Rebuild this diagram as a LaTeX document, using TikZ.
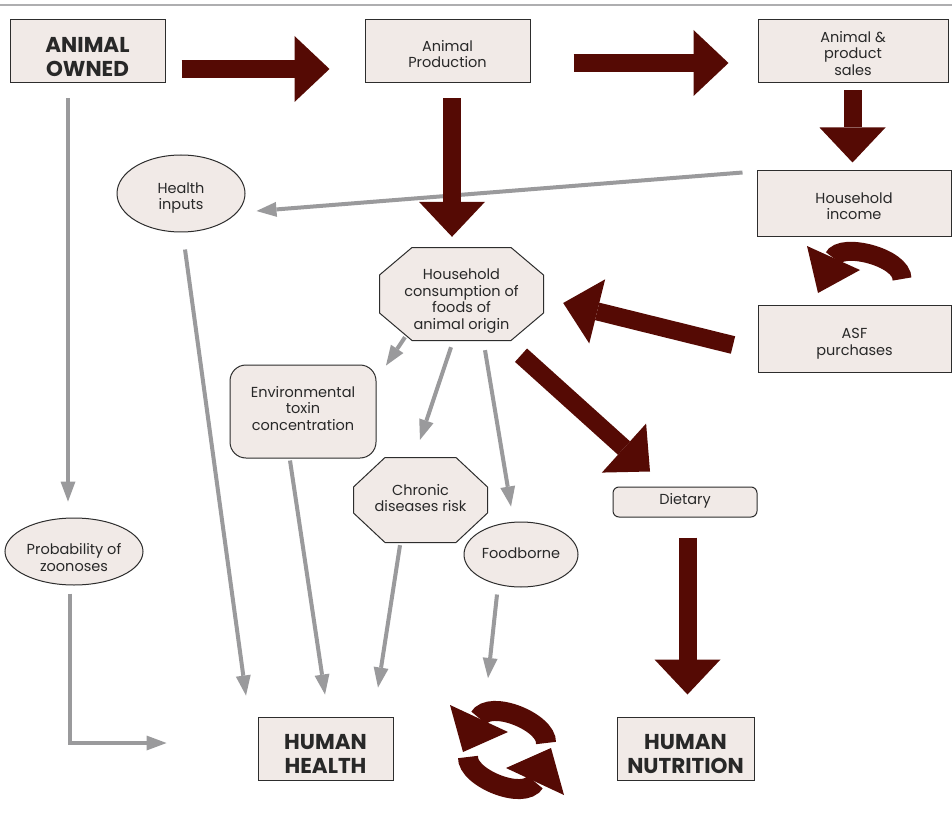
\documentclass[tikz,border=0pt]{standalone}
\usepackage{fontspec}
\setmainfont{Poppins}
\usetikzlibrary{arrows.meta,shapes.geometric,calc}
\definecolor{dred}{RGB}{85,10,4}
\definecolor{fillc}{RGB}{241,234,231}
\definecolor{arrg}{RGB}{154,154,156}
\definecolor{txt}{RGB}{40,40,40}
\definecolor{bord}{RGB}{45,45,45}
\newcommand{\mytxt}[2]{\raisebox{#1}[\height][\depth]{\begin{tabular}{@{}c@{}}#2\end{tabular}}}
\begin{document}
\begin{tikzpicture}[x=1pt,y=-1pt,
  box/.style={draw=bord, fill=fillc, line width=1pt, text=txt, align=center,
    inner sep=0pt, font=\fontsize{14.5}{16.5}\selectfont},
  bigbox/.style={box, font=\bfseries\fontsize{21.5}{24.5}\selectfont},
  ellbox/.style={box, ellipse},
  octbox/.style 2 args={draw=none, fill=none, text=txt, align=center, inner sep=0pt,
    font=\fontsize{14.5}{16.5}\selectfont,
    path picture={\filldraw[draw=bord, fill=fillc, line width=1pt]
      ([xshift=#1,yshift=-0.5pt]path picture bounding box.north west) --
      ([xshift=-#1,yshift=-0.5pt]path picture bounding box.north east) --
      ([xshift=-0.5pt,yshift=-#2]path picture bounding box.north east) --
      ([xshift=-0.5pt,yshift=#2]path picture bounding box.south east) --
      ([xshift=-#1,yshift=0.5pt]path picture bounding box.south east) --
      ([xshift=#1,yshift=0.5pt]path picture bounding box.south west) --
      ([xshift=0.5pt,yshift=#2]path picture bounding box.south west) --
      ([xshift=0.5pt,yshift=-#2]path picture bounding box.north west) -- cycle;}},
  garr/.style={draw=arrg, line width=4pt, -{Triangle[length=20pt,width=15pt,line width=0pt]}},
  bigarr/.style={draw=dred, line width=18pt, -{Triangle[length=35pt,width=66pt,line width=0pt]}},
  curvearr/.style={draw=dred, line width=20pt},
  headfill/.style={fill=dred}
]
\fill[white] (0,0) rectangle (952,818);
\useasboundingbox (0,0) rectangle (952,818);
\draw[arrg!80, line width=1.5pt] (0,5) -- (952,5);

% nodes
\node[bigbox, minimum width=155pt, minimum height=63pt] (owned) at (87.5,51.5) {\mytxt{-8pt}{ANIMAL\\OWNED}};
\node[box, minimum width=165pt, minimum height=63pt] (prod) at (447.5,51.5) {\mytxt{-4.5pt}{Animal\\Production}};
\node[box, minimum width=190pt, minimum height=63pt] (sales) at (853,51.5) {\mytxt{-4pt}{Animal \&\\product\\sales}};
\node[box, minimum width=194pt, minimum height=66pt] (income) at (854,204) {\mytxt{-4pt}{Household\\income}};
\node[box, minimum width=193pt, minimum height=67pt] (asf) at (854.5,338.5) {\mytxt{-5pt}{ASF\\purchases}};
\node[ellbox, minimum width=128pt, minimum height=77pt] (hinputs) at (181,193.5) {\mytxt{-4.5pt}{Health\\inputs}};
\node[octbox={33pt}{28pt}, minimum width=165pt, minimum height=94pt] (cons) at (461.5,294) {\mytxt{-7pt}{Household\\consumption of\\foods of\\animal origin}};
\node[box, rounded corners=16pt, minimum width=146pt, minimum height=93pt] (env) at (303,411.5) {\mytxt{1pt}{Environmental\\toxin\\concentration}};
\node[octbox={32pt}{30pt}, minimum width=135pt, minimum height=86pt] (chronic) at (420.5,500) {\mytxt{0pt}{Chronic\\diseases risk}};
\node[ellbox, minimum width=114pt, minimum height=65pt] (food) at (521,554.5) {\mytxt{-1pt}{Foodborne}};
\node[box, rounded corners=6pt, minimum width=144pt, minimum height=30pt] (diet) at (685,502) {\mytxt{1pt}{Dietary}};
\node[ellbox, minimum width=138pt, minimum height=67pt] (zoon) at (74,551.5) {\mytxt{-8pt}{Probability of\\zoonoses}};
\node[bigbox, minimum width=135pt, minimum height=63pt] (hhealth) at (325.5,748.5) {\mytxt{-8pt}{HUMAN\\HEALTH}};
\node[bigbox, minimum width=137pt, minimum height=63pt] (hnutr) at (685.5,748.5) {\mytxt{-8pt}{HUMAN\\NUTRITION}};
\coordinate (fbend) at (488,678);

% gray connectors
\draw[garr] ($(owned.south)+(-19.5,15)$) -- ($(zoon.north)+(-6,-16)$);
\draw[garr] ($(zoon.south)+(-4,8)$) |- ($(hhealth.west)+(-91,-5.5)$);
\draw[garr] ($(hinputs.south)+(4,17)$) -- ($(hhealth.north)+(-79.5,-21)$);
\draw[garr] ($(env.south)+(-13,2)$) -- ($(hhealth.north)+(-0.5,-22)$);
\draw[garr] ($(chronic.south)+(-20.5,2)$) -- ($(hhealth.north)+(52.5,-29)$);
\draw[garr] ($(food.south)+(-24,7)$) -- (fbend);
\draw[garr] ($(income.north west)+(-14,2)$) -- ($(hinputs.east)+(11,17.5)$);
\draw[garr] ($(cons.south)+(-56.5,-4)$) -- ($(env.north)+(83,1)$);
\draw[garr] ($(cons.south)+(-10.5,6)$) -- ($(chronic.north)+(-0.5,-17)$);
\draw[garr] ($(cons.south)+(23.5,9)$) -- ($(food.north)+(-10,-15)$);

% big arrows
\draw[bigarr] ($(owned.east)+(16,17.5)$) -- ($(prod.west)+(-35,17.5)$);
\draw[bigarr] ($(prod.east)+(43,11.5)$) -- ($(sales.west)+(-29,11.5)$);
\draw[bigarr] ($(sales.south)+(-0.5,7)$) -- ($(income.north)+(-1.5,-8)$);
\draw[bigarr] ($(prod.south)+(4.5,15)$) -- ($(cons.north)+(-9.5,-10)$);
\draw[bigarr] ($(asf.west)+(-24.5,6.5)$) -- ($(cons.east)+(19,9)$);
\draw[bigarr] ($(cons.south)+(59.5,14)$) -- ($(diet.north)+(-35,-15)$);
\draw[bigarr] ($(diet.south)+(2.5,20)$) -- ($(hnutr.north)+(2,-22)$);

% curved arrow between income and ASF purchases
\draw[curvearr, line width=19pt] (902,279) .. controls (902,257) and (841,242) .. (833.5,258);
\fill[headfill] (807,246) -- (818,293) -- (860,270) -- cycle;

% cycle arrows
\draw[curvearr] (546,743) .. controls (547,722) and (490,699) .. (479,718);
\fill[headfill] (450,705) -- (463,752) -- (508,732) -- cycle;
\draw[curvearr] (468,757) .. controls (467,778) and (524,801) .. (535,782);
\fill[headfill] (564,795) -- (551,748) -- (506,768) -- cycle;
\end{tikzpicture}
\end{document}
